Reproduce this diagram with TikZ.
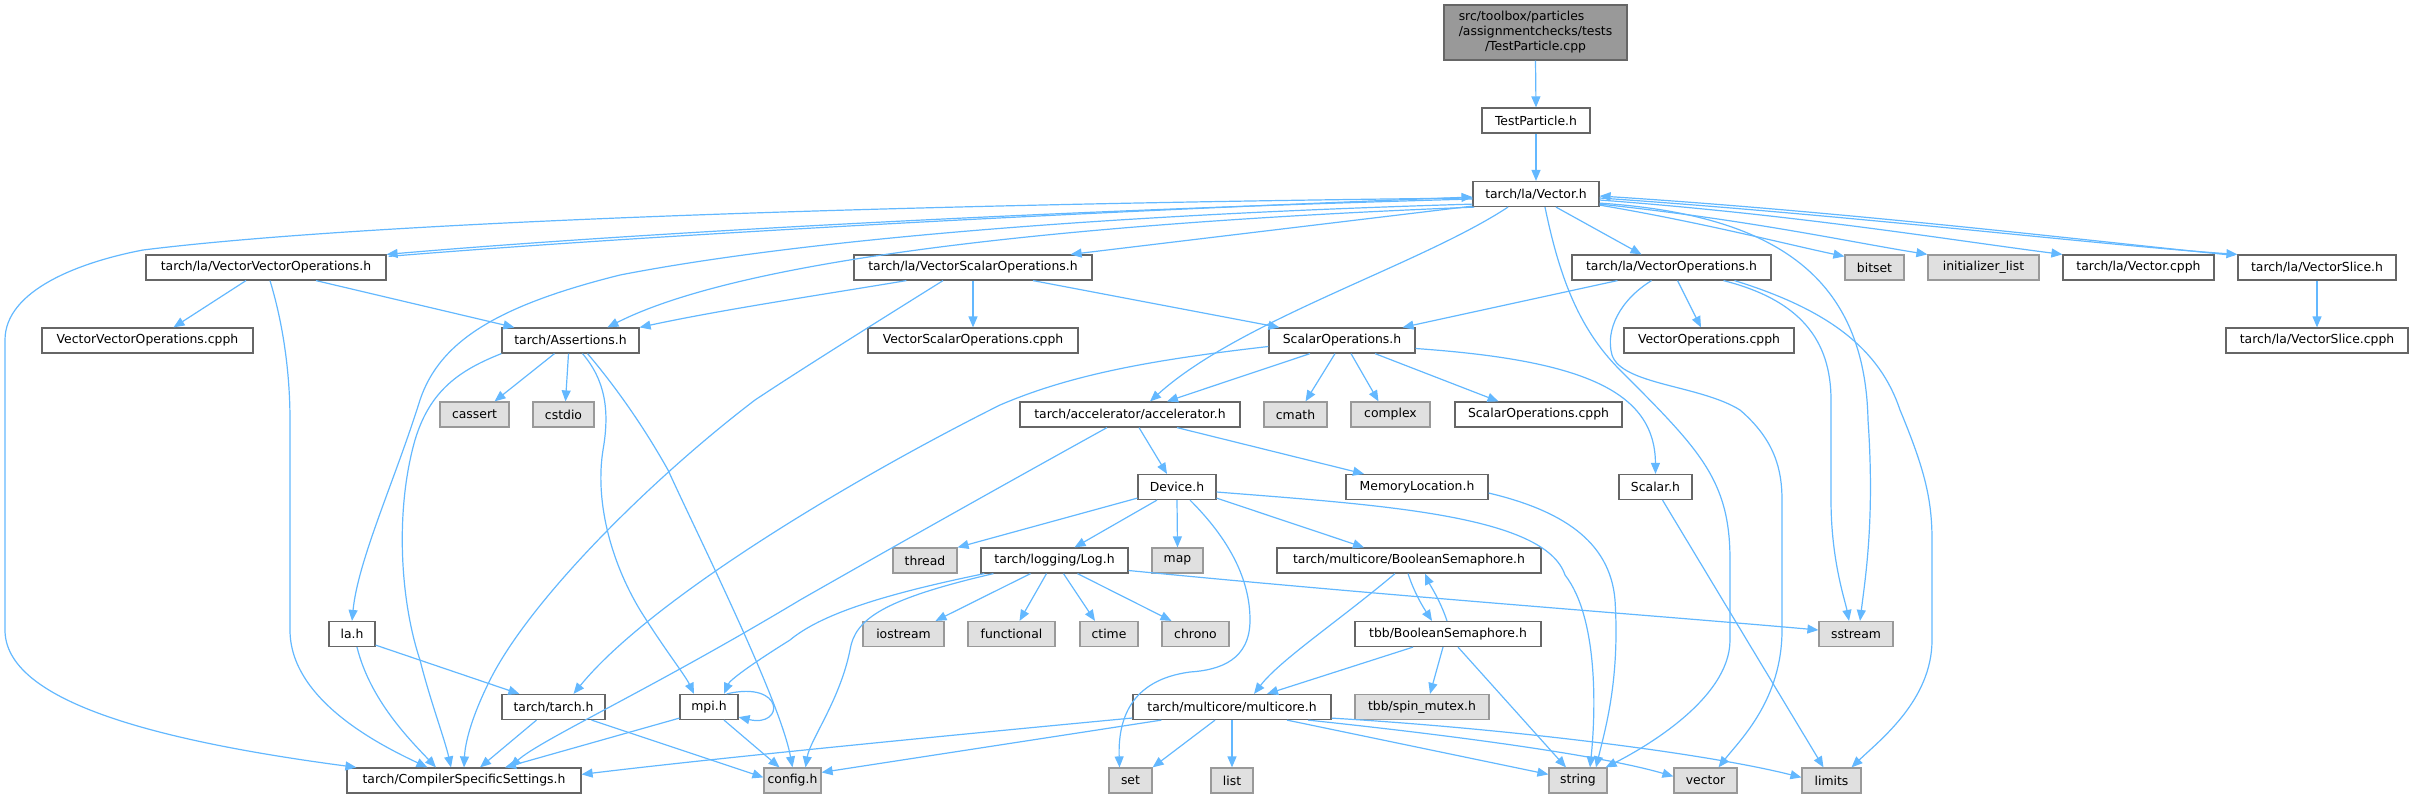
\documentclass[tikz,border=0pt]{standalone}
\usepackage{fontspec}
\setmainfont{DejaVu Sans}
\usetikzlibrary{arrows.meta,calc}
\definecolor{edgec}{HTML}{63B8FF}
\definecolor{bord}{HTML}{666666}
\definecolor{extb}{HTML}{999999}
\definecolor{extf}{HTML}{E0E0E0}
\definecolor{topf}{HTML}{999999}
\begin{document}
\begin{tikzpicture}[x=0.5pt,y=-0.5pt,
  nd/.style={draw=bord,fill=white,line width=0.6pt,minimum height=12.5pt,inner sep=0pt,font=\fontsize{6.2}{7.5}\selectfont},
  ext/.style={nd,draw=extb,fill=extf},
  edg/.style={draw=edgec,line width=0.6pt,-{Triangle[length=5.5pt,width=4.5pt]}}]
\useasboundingbox (0,0) rectangle (2414,799);
% nodes
\node[nd,minimum width=91.5pt,minimum height=27.5pt,fill=topf] (top) at (1535.5,32.5)
  {\begin{tabular}{@{}l@{}}src/toolbox/particles\\/assignmentchecks/tests\\\multicolumn{1}{@{}c@{}}{/TestParticle.cpp}\end{tabular}};
\node[nd,minimum width=54pt] (tp) at (1536,120.5) {TestParticle.h};
\node[nd,minimum width=63pt] (vec) at (1536,194) {tarch/la/Vector.h};
% row 1
\node[nd,minimum width=120pt] (vvo) at (266,267.5) {tarch/la/VectorVectorOperations.h};
\node[nd,minimum width=119pt] (vso) at (973,267.5) {tarch/la/VectorScalarOperations.h};
\node[nd,minimum width=99.5pt] (vo) at (1671.5,267.5) {tarch/la/VectorOperations.h};
\node[ext,minimum width=29.5pt] (bitset) at (1874.5,267.5) {bitset};
\node[ext,minimum width=55.5pt] (initl) at (1983.5,267.5) {initializer\_list};
\node[nd,minimum width=75.5pt] (vcpph) at (2138.5,267.5) {tarch/la/Vector.cpph};
\node[nd,minimum width=79pt] (vslice) at (2317,267.5) {tarch/la/VectorSlice.h};
% row 2
\node[nd,minimum width=105.5pt] (vvocpph) at (147.5,340.5) {VectorVectorOperations.cpph};
\node[nd,minimum width=68.5pt] (assert) at (570.5,340.5) {tarch/Assertions.h};
\node[nd,minimum width=105pt] (vsocpph) at (973,340.5) {VectorScalarOperations.cpph};
\node[nd,minimum width=73pt] (scalops) at (1342,340.5) {ScalarOperations.h};
\node[nd,minimum width=85pt] (vocpph) at (1709,340.5) {VectorOperations.cpph};
\node[nd,minimum width=91pt] (vslicecpph) at (2317,340.5) {tarch/la/VectorSlice.cpph};
% row 3
\node[ext,minimum width=34.5pt] (cassert) at (474.5,414.5) {cassert};
\node[ext,minimum width=30.5pt] (cstdio) at (563.5,414.5) {cstdio};
\node[nd,minimum width=110pt] (accel) at (1130,414.5) {tarch/accelerator/accelerator.h};
\node[ext,minimum width=31.5pt] (cmath) at (1295.5,414.5) {cmath};
\node[ext,minimum width=39.5pt] (complex) at (1390.5,414.5) {complex};
\node[nd,minimum width=83.5pt] (scalopscpph) at (1538.5,414.5) {ScalarOperations.cpph};
% row 4
\node[nd,minimum width=39pt] (device) at (1177,487) {Device.h};
\node[nd,minimum width=71pt] (memloc) at (1417,487) {MemoryLocation.h};
\node[nd,minimum width=36.5pt] (scalar) at (1655.5,487) {Scalar.h};
% row 5
\node[ext,minimum width=32pt] (thread) at (925,560.5) {thread};
\node[nd,minimum width=73.5pt] (log) at (1054.5,560.5) {tarch/logging/Log.h};
\node[ext,minimum width=25.5pt] (map) at (1177.5,560.5) {map};
\node[nd,minimum width=132pt] (bsem) at (1409,560.5) {tarch/multicore/BooleanSemaphore.h};
% row 6
\node[nd,minimum width=23pt] (la) at (352,634) {la.h};
\node[ext,minimum width=40.5pt] (iostream) at (903.5,634) {iostream};
\node[ext,minimum width=43.5pt] (functional) at (1011.5,634) {functional};
\node[ext,minimum width=29pt] (ctime) at (1109,634) {ctime};
\node[ext,minimum width=33.5pt] (chrono) at (1195.5,634) {chrono};
\node[nd,minimum width=93pt] (tbbsem) at (1448,634) {tbb/BooleanSemaphore.h};
\node[ext,minimum width=37pt] (sstream) at (1856,634) {sstream};
% row 7
\node[nd,minimum width=51.5pt] (tarch) at (553.5,707) {tarch/tarch.h};
\node[nd,minimum width=29pt] (mpi) at (709,707) {mpi.h};
\node[nd,minimum width=99pt] (multicore) at (1232,707) {tarch/multicore/multicore.h};
\node[ext,minimum width=67pt] (spin) at (1422,707) {tbb/spin\_mutex.h};
% row 8
\node[nd,minimum width=117pt] (css) at (464,780.5) {tarch/CompilerSpecificSettings.h};
\node[ext,minimum width=28.5pt] (config) at (792.5,780.5) {config.h};
\node[ext,minimum width=21.5pt] (set) at (1130.5,780.5) {set};
\node[ext,minimum width=21pt] (list) at (1232,780.5) {list};
\node[ext,minimum width=29pt] (string) at (1578,780.5) {string};
\node[ext,minimum width=31.5pt] (vector) at (1705.5,780.5) {vector};
\node[ext,minimum width=29.5pt] (limits) at (1831.5,780.5) {limits};
% edges
\draw[edg] (top.south) -- (tp.north);
\draw[edg] (tp.south) -- (vec.north);
\draw[edg] ($(vec.west)+(0,4)$) .. controls (1000,203) and (400,218) .. (143,250) .. controls (80,262) and (5,290) .. (5,340) -- (5,630) .. controls (5,700) and (150,740) .. ($(css.north west)+(10,0)$);
\draw[edg] ($(vec.west)+(0,5)$) .. controls (1000,212) and (600,236) .. (vvo.north east);
\draw[edg] ($(vvo.north east)+(2,2)$) .. controls (600,239) and (1000,215) .. ($(vec.west)+(0,3)$);
\draw[edg] ($(vec.south west)+(0,-3)$) .. controls (1100,215) and (800,240) .. (620,275) .. controls (500,305) and (440,340) .. (420,400) .. controls (395,480) and (358,560) .. (la.north);
\draw[edg] ($(vec.south west)+(2,0)$) .. controls (1100,222) and (750,255) .. ($(assert.north west)+(106,0)$);
\draw[edg] ($(vec.south west)+(0,-1)$) -- ($(vso.north east)+(-22,0)$);
\draw[edg] ($(vvo.south)+(-20,0)$) -- ($(vvocpph.north)+(26,0)$);
\draw[edg] ($(vvo.south)+(50,0)$) -- ($(assert.north west)+(13,0)$);
\draw[edg] ($(vvo.south)+(4,0)$) .. controls (285,330) and (290,380) .. (290,420) -- (290,630) .. controls (290,700) and (380,745) .. ($(css.north west)+(81,0)$);
\draw[edg] ($(vso.south west)+(53,0)$) .. controls (820,295) and (720,310) .. (assert.north east);
\draw[edg] (vso.south) -- (vsocpph.north);
\draw[edg] ($(vso.south)+(60,0)$) -- ($(scalops.north west)+(11,0)$);
\draw[edg] ($(vso.south)+(-30,0)$) .. controls (880,320) and (800,370) .. (755,400) .. controls (650,480) and (530,600) .. (490,680) .. controls (470,720) and (465,745) .. (css.north);
\draw[edg] ($(vec.south)+(20,0)$) -- ($(vo.north)+(-30,0)$);
\draw[edg] ($(vec.south east)+(0,-2)$) .. controls (1700,222) and (1790,245) .. ($(bitset.north west)+(0,2)$);
\draw[edg] ($(vec.south east)+(0,-3)$) .. controls (1750,220) and (1850,242) .. (initl.north west);
\draw[edg] ($(vec.east)+(0,6)$) .. controls (1800,215) and (1950,240) .. (vcpph.north west);
\draw[edg] ($(vec.east)+(0,4)$) .. controls (1850,215) and (2100,245) .. (vslice.north west);
\draw[edg] ($(vslice.north west)+(-3,1)$) .. controls (2100,242) and (1850,212) .. ($(vec.east)+(0,2)$);
\draw[edg] (vslice.south) -- (vslicecpph.north);
\draw[edg] ($(vec.south east)+(0,-4)$) .. controls (1780,215) and (1865,280) .. (1868,420) .. controls (1875,520) and (1865,580) .. ($(sstream.north)+(4,0)$);
\draw[edg] ($(vec.south)+(9,0)$) .. controls (1560,280) and (1580,330) .. (1620,370) .. controls (1700,450) and (1730,480) .. (1730,560) -- (1730,640) .. controls (1730,700) and (1640,750) .. ($(string.north east)+(-2,0)$);
\draw[edg] ($(vo.south west)+(46,0)$) -- ($(scalops.north east)+(-13,0)$);
\draw[edg] ($(vo.south)+(6,0)$) -- ($(vocpph.north)+(-8,0)$);
\draw[edg] ($(vo.south)+(-20,0)$) .. controls (1620,300) and (1605,330) .. (1612,355) .. controls (1622,385) and (1700,385) .. (1740,410) .. controls (1775,440) and (1782,470) .. (1782,500) -- (1782,630) .. controls (1782,700) and (1740,740) .. ($(vector.north)+(13,0)$);
\draw[edg] ($(vo.south)+(52,0)$) .. controls (1800,300) and (1831,340) .. (1831,400) -- (1831,500) .. controls (1831,560) and (1845,600) .. ($(sstream.north)+(-7,0)$);
\draw[edg] ($(vo.south)+(63,0)$) .. controls (1830,310) and (1880,350) .. (1900,410) .. controls (1925,470) and (1932,500) .. (1932,540) -- (1932,640) .. controls (1932,700) and (1880,740) .. ($(limits.north)+(20,0)$);
\draw[edg] ($(vec.south)+(-28,0)$) .. controls (1420,265) and (1240,320) .. ($(accel.north)+(20,0)$);
\draw[edg] ($(scalops.south)+(-32,0)$) -- ($(accel.north)+(37,0)$);
\draw[edg] ($(scalops.south)+(-7,0)$) -- ($(cmath.north)+(10,0)$);
\draw[edg] ($(scalops.south)+(9,0)$) -- ($(complex.north)+(-12,0)$);
\draw[edg] ($(scalops.south)+(33,0)$) -- ($(scalopscpph.north)+(-40,0)$);
\draw[edg] ($(scalops.east)+(0,8)$) .. controls (1580,360) and (1655,390) .. (scalar.north);
\draw[edg] ($(scalops.west)+(0,6)$) .. controls (1150,360) and (1070,375) .. (1000,405) .. controls (850,480) and (650,600) .. ($(tarch.north)+(20,0)$);
\draw[edg] ($(accel.south)+(9,0)$) -- ($(device.north)+(-10,0)$);
\draw[edg] ($(accel.south)+(47,0)$) -- ($(memloc.north)+(-53,0)$);
\draw[edg] ($(accel.south)+(-23,0)$) .. controls (1005,484) and (900,543) .. (800,600) .. controls (650,690) and (540,740) .. ($(css.north)+(46,0)$);
\draw[edg] ($(device.south west)+(0,-2)$) -- (thread.north east);
\draw[edg] ($(device.south)+(-20,0)$) -- ($(log.north)+(20,0)$);
\draw[edg] (device.south) -- (map.north);
\draw[edg] ($(device.south)+(13,0)$) .. controls (1230,540) and (1250,580) .. (1250,620) .. controls (1250,660) and (1220,670) .. (1190,672) .. controls (1130,680) and (1118,720) .. ($(set.north)+(-11,0)$);
\draw[edg] ($(device.south east)+(0,-2)$) -- ($(bsem.north)+(-45,0)$);
\draw[edg] ($(device.east)+(0,5)$) .. controls (1380,505) and (1545,515) .. (1565,575) .. controls (1600,620) and (1595,720) .. ($(string.north)+(12,0)$);
\draw[edg] ($(memloc.east)+(0,6)$) .. controls (1560,510) and (1610,540) .. (1615,600) .. controls (1620,680) and (1605,730) .. ($(string.north)+(18,0)$);
\draw[edg] ($(log.south)+(-24,0)$) -- ($(iostream.north)+(32,0)$);
\draw[edg] ($(log.south)+(-8,0)$) -- ($(functional.north)+(8,0)$);
\draw[edg] ($(log.south)+(9,0)$) -- ($(ctime.north)+(-14,0)$);
\draw[edg] ($(log.south)+(23,0)$) -- ($(chrono.north)+(-24,0)$);
\draw[edg] ($(log.east)+(0,10)$) .. controls (1400,597) and (1650,615) .. ($(sstream.west)+(0,-4)$);
\draw[edg] ($(log.south west)+(13,0)$) .. controls (880,600) and (855,620) .. (850,650) .. controls (840,700) and (810,740) .. ($(config.north)+(13,0)$);
\draw[edg] ($(log.south west)+(4,0)$) .. controls (880,595) and (820,615) .. (790,640) .. controls (750,665) and (730,680) .. ($(mpi.north)+(15,0)$);
\draw[edg] ($(bsem.south)+(-1,0)$) .. controls (1415,595) and (1425,610) .. ($(tbbsem.north)+(-16,0)$);
\draw[edg] ($(tbbsem.north)+(-1,0)$) .. controls (1440,600) and (1430,585) .. ($(bsem.south)+(16,0)$);
\draw[edg] ($(bsem.south)+(-14,0)$) .. controls (1340,620) and (1280,660) .. ($(multicore.north)+(22,0)$);
\draw[edg] ($(tbbsem.south)+(-35,0)$) -- ($(multicore.north)+(35,0)$);
\draw[edg] ($(tbbsem.south)+(-5,0)$) -- ($(spin.north)+(8,0)$);
\draw[edg] ($(tbbsem.south)+(10,0)$) -- ($(string.north)+(-12,0)$);
\draw[edg] ($(multicore.south west)+(29,0)$) -- ($(config.north east)+(0,5)$);
\draw[edg] ($(multicore.west)+(0,11)$) .. controls (900,740) and (700,760) .. ($(css.north east)+(0,7)$);
\draw[edg] ($(multicore.south)+(-17,0)$) -- (set.north east);
\draw[edg] (multicore.south) -- (list.north);
\draw[edg] ($(multicore.south)+(55,0)$) -- ($(string.north west)+(0,7)$);
\draw[edg] ($(multicore.south)+(76,0)$) .. controls (1450,735) and (1600,755) .. ($(vector.north west)+(0,9)$);
\draw[edg] ($(multicore.south east)+(0,-2)$) .. controls (1500,728) and (1700,752) .. ($(limits.north west)+(0,10)$);
\draw[edg] ($(scalar.south)+(7,0)$) -- ($(limits.north)+(-8,0)$);
\draw[edg] ($(assert.south)+(-16,0)$) -- ($(cassert.north)+(20,0)$);
\draw[edg] ($(assert.south)+(-2,0)$) -- ($(cstdio.north)+(2,0)$);
\draw[edg] ($(assert.south)+(12,0)$) .. controls (605,380) and (610,410) .. (603,450) .. controls (595,500) and (610,560) .. (640,610) .. controls (665,650) and (685,675) .. ($(mpi.north)+(-15,0)$);
\draw[edg] ($(assert.south)+(17,0)$) .. controls (610,380) and (640,420) .. (668,470) .. controls (700,540) and (780,700) .. (config.north);
\draw[edg] (assert.south west) .. controls (460,370) and (430,390) .. (415,440) .. controls (395,510) and (400,600) .. (420,660) .. controls (430,700) and (445,740) .. ($(css.north)+(-13,0)$);
\draw[edg] ($(la.south east)+(0,-2)$) -- ($(tarch.north west)+(18,0)$);
\draw[edg] ($(la.south)+(5,0)$) .. controls (370,700) and (410,740) .. ($(css.north)+(-28,0)$);
\draw[edg] ($(tarch.south)+(-17,0)$) -- ($(css.north)+(16,0)$);
\draw[edg] ($(tarch.south)+(38,0)$) -- ($(config.north west)+(0,10)$);
\draw[edg] ($(mpi.south west)+(0,-2)$) -- ($(css.north)+(41,0)$);
\draw[edg] ($(mpi.south)+(15,0)$) -- ($(config.north)+(-13,0)$);
\draw[edg] ($(mpi.north east)+(-12,0)$) .. controls (785,680) and (785,728) .. ($(mpi.south east)+(0,-3)$);
\end{tikzpicture}
\end{document}
